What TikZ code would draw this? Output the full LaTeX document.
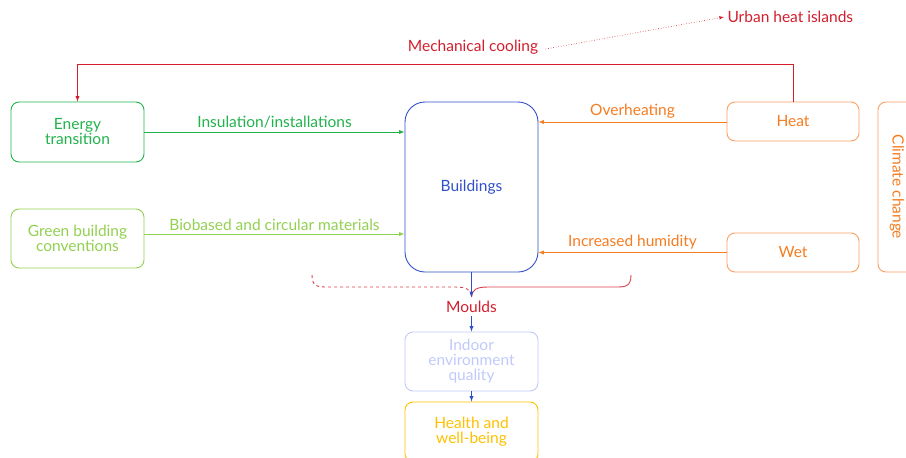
\documentclass[tikz,border=0pt]{standalone}
\usepackage{fontspec}
\setmainfont{Lato}
\usepackage{tikz}
\usetikzlibrary{calc}
\usetikzlibrary{shapes,arrows}

\definecolor{energygreen}{RGB}{34,178,76}
\definecolor{lightgreen}{RGB}{146,208,80}
\definecolor{heatorange}{RGB}{245,124,32}
\definecolor{boxorange}{RGB}{250,160,96}
\definecolor{coolred}{RGB}{210,30,45}
\definecolor{buildblue}{RGB}{48,80,200}
\definecolor{indoorblue}{RGB}{192,202,250}
\definecolor{healthyellow}{RGB}{255,192,0}

\begin{document}
\begin{tikzpicture}[x=1pt,y=-1pt]
     \tikzstyle{every node}=[font=\fontsize{15.5}{15}\selectfont]
     \tikzstyle{box}=[draw,rounded corners=8pt,line width=0.9pt,align=center,inner sep=2pt]
     \tikzstyle{link}=[line width=0.9pt,-latex]
      \useasboundingbox (0,0) rectangle (906,458);
      % boxes
      \node[box,energygreen,minimum width=133pt,minimum height=60pt] (Energy) at (77.5,132) {Energy\\transition};
      \node[box,lightgreen,minimum width=133pt,minimum height=59pt] (Green) at (77.5,238.5) {Green building\\conventions};
      \node[box,buildblue,rounded corners=20pt,minimum width=133pt,minimum height=170pt] (Buildings) at (471.5,187) {Buildings};
      \node[box,boxorange,text=heatorange,minimum width=132pt,minimum height=39pt] (Heat) at (793,121.5) {Heat};
      \node[box,boxorange,text=heatorange,minimum width=132pt,minimum height=39pt] (Wet) at (793,252.5) {Wet};
      \node[box,boxorange,minimum width=44pt,minimum height=170pt] (Climate) at (900,187) {};
      \node[heatorange,rotate=-90] (ClimateText) at (897,187) {Climate change};
      \node[coolred] (Moulds) at (471.5,307) {Moulds};
      \node[box,indoorblue,minimum width=133pt,minimum height=59pt] (Indoor) at (471.5,361.5) {Indoor\\environment\\quality};
      \node[box,healthyellow,minimum width=133pt,minimum height=60pt] (Health) at (471.5,432) {Health and\\well-being};
      \node[coolred,anchor=west] (Urban) at (724,17) {Urban heat islands};
      \node[coolred] (Cooling) at (473,47) {Mechanical cooling};
      % mechanical cooling
      \coordinate (CoolR) at (793,64);
      \draw [link,draw=coolred] (Heat.north) -- (CoolR) -| (Energy.north);
      \draw [draw=coolred,dotted,-latex,line width=0.6pt] (Cooling.east) ++(4,2) -- (Urban.west);
      % arrows into buildings
      \draw [link,energygreen] (Energy.east |- 0,132) -- (Buildings.west |- 0,132) node[midway,above,energygreen] {Insulation/installations};
      \draw [link,lightgreen] (Green.east |- 0,234) -- (Buildings.west |- 0,234) node[midway,above,lightgreen] {Biobased and circular materials};
      \draw [link,heatorange] (Heat.west |- 0,122) -- (Buildings.east |- 0,122) node[midway,above,heatorange] {Overheating};
      \draw [link,heatorange] (Wet.west) -- (Buildings.east |- Wet.west) node[midway,above,heatorange] {Increased humidity};
      % moulds brace
      \coordinate (BraceTip) at (471.5,297);
      \draw [coolred!85,line width=0.9pt] (631,275) .. controls (631,287) and (625,287) .. (615,287) -- (488,287) .. controls (476,287) and (472,290) .. (BraceTip);
      \draw [coolred!85,line width=0.9pt,dashed] (312,275) .. controls (312,287) and (318,287) .. (328,287) -- (455,287) .. controls (467,287) and (471,290) .. (BraceTip);
      \draw [buildblue,line width=0.9pt,-latex] (Buildings.south) -- (BraceTip);
      \draw [buildblue,line width=0.9pt,-latex] (Moulds.south) -- (Indoor.north);
      \draw [buildblue,line width=0.9pt,-latex] (Indoor.south) -- (Health.north);
    \end{tikzpicture}
\end{document}
